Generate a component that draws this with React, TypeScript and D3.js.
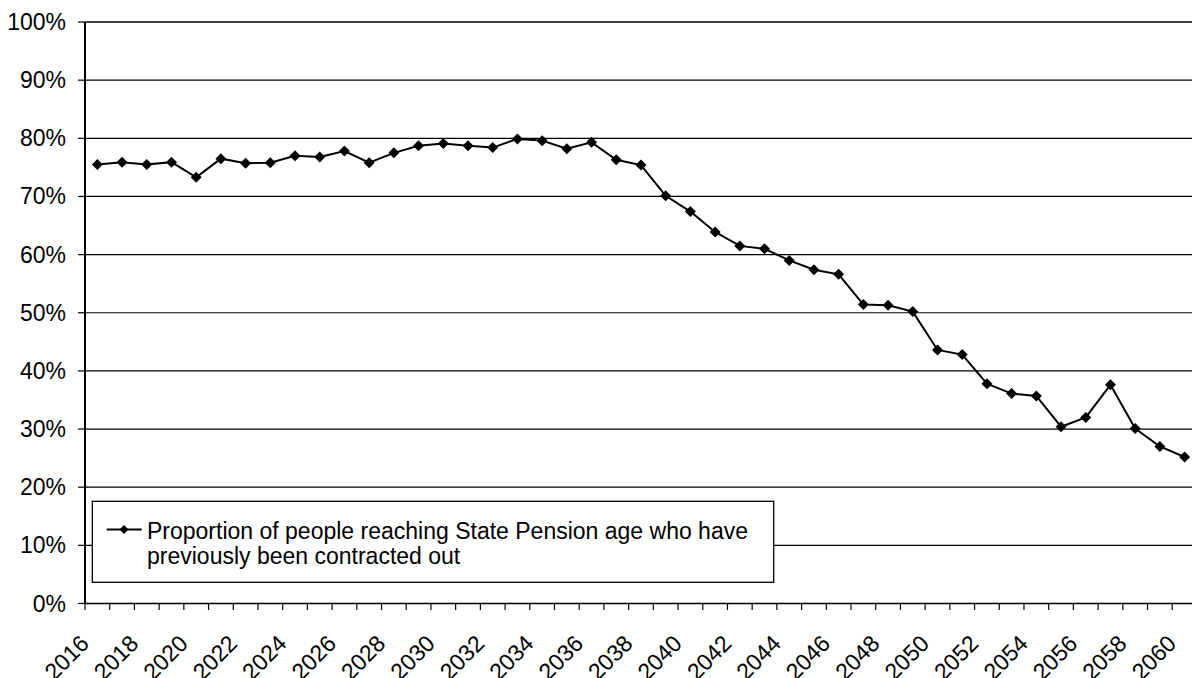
import React from "react";
import * as d3 from "d3";

const years: number[] = d3.range(2016, 2061);
const values: number[] = [
  75.5, 75.9, 75.5, 75.9, 73.3, 76.5, 75.7, 75.8, 77.0, 76.8,
  77.8, 75.8, 77.5, 78.7, 79.1, 78.7, 78.4, 79.9, 79.6, 78.2,
  79.3, 76.3, 75.4, 70.1, 67.4, 63.9, 61.5, 61.0, 59.0, 57.4,
  56.6, 51.4, 51.3, 50.2, 43.6, 42.8, 37.8, 36.1, 35.7, 30.4,
  32.0, 37.6, 30.1, 27.0, 25.2,
];
const yTicks: number[] = [0, 10, 20, 30, 40, 50, 60, 70, 80, 90, 100];
const legendLines: string[] = [
  "Proportion of people reaching State Pension age who have",
  "previously been contracted out",
];

const W = 1192;
const H = 678;
const FONT = "'Liberation Sans', Arial, sans-serif";

export default function App() {
  const x = d3
    .scaleBand<number>()
    .domain(years)
    .range([85, 85 + 45 * 24.71])
    .padding(0);
  const y = d3.scaleLinear().domain([0, 100]).range([603.5, 22]);
  const cx = (yr: number) => (x(yr) as number) + x.bandwidth() / 2;

  const line = d3
    .line<number>()
    .x((_, i) => cx(years[i]))
    .y((d) => y(d));

  const diamond = (px: number, py: number, r: number) =>
    `M${px},${py - r}L${px + r},${py}L${px},${py + r}L${px - r},${py}Z`;

  const x0 = 85;
  const x1 = 85 + 45 * 24.71;

  return (
    <div style={{ position: "absolute", left: 0, top: 0, width: W, height: H, overflow: "hidden", background: "#fff" }}>
      <svg width={W} height={H} style={{ display: "block" }} fontFamily={FONT}>
        <rect x={0} y={0} width={W} height={H} fill="#fff" />
        {/* gridlines */}
        {yTicks.map((t) =>
          t === 0 ? null : (
            <line
              key={"g" + t}
              x1={x0}
              x2={x1}
              y1={y(t)}
              y2={y(t)}
              stroke={t === 100 ? "#404040" : "#000"}
              strokeWidth={t === 100 ? 2 : 1.2}
            />
          )
        )}
        {/* y ticks & labels */}
        {yTicks.map((t) => (
          <g key={"yt" + t}>
            <line x1={78} x2={x0} y1={y(t)} y2={y(t)} stroke="#000" strokeWidth={1.2} />
            <text x={66} y={y(t) + 8} textAnchor="end" fontSize={23} fill="#000">
              {t + "%"}
            </text>
          </g>
        ))}
        {/* x axis */}
        <line x1={x0} x2={x1} y1={y(0)} y2={y(0)} stroke="#000" strokeWidth={1.5} />
        {years.map((yr) => (
          <line
            key={"xt" + yr}
            x1={x(yr) as number}
            x2={x(yr) as number}
            y1={y(0)}
            y2={y(0) + 6.5}
            stroke="#000"
            strokeWidth={1.2}
          />
        ))}
        <line x1={x1} x2={x1} y1={y(0)} y2={y(0) + 6.5} stroke="#000" strokeWidth={1.2} />
        {years
          .filter((yr) => yr % 2 === 0)
          .map((yr) => {
            const px = cx(yr) - 7;
            const py = 645;
            return (
              <text
                key={"xl" + yr}
                x={px}
                y={py}
                textAnchor="end"
                fontSize={23}
                fill="#000"
                transform={`rotate(-45 ${px} ${py})`}
              >
                {yr}
              </text>
            );
          })}
        {/* y axis */}
        <line x1={x0} x2={x0} y1={22} y2={y(0)} stroke="#000" strokeWidth={2} />
        {/* series */}
        <path d={line(values) || ""} fill="none" stroke="#000" strokeWidth={2} />
        {values.map((v, i) => (
          <path key={"m" + i} d={diamond(cx(years[i]), y(v), 5.5)} fill="#000" />
        ))}
        {/* legend */}
        <rect x={92.3} y={501.3} width={681.4} height={81} fill="#fff" stroke="#000" strokeWidth={1.3} />
        <line x1={106.7} x2={141.7} y1={529.5} y2={529.5} stroke="#000" strokeWidth={2} />
        <path d={diamond(124, 529.5, 4.5)} fill="#000" />
        {legendLines.map((s, i) => (
          <text key={"lg" + i} x={147} y={538.5 + i * 25} fontSize={23} fill="#000">
            {s}
          </text>
        ))}
      </svg>
    </div>
  );
}
